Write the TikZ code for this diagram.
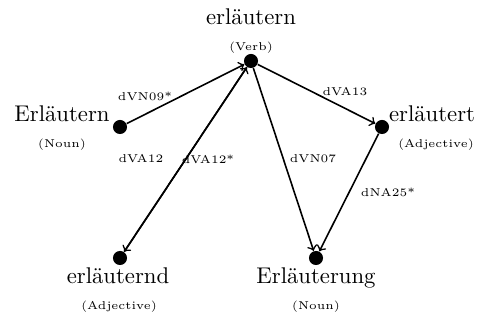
\documentclass[tikz,border=0pt]{standalone}
\begin{document}
\begin{tikzpicture}[x=0.44pt,y=-0.44pt,
  dot/.style={circle,fill=black,inner sep=0pt,minimum size=6.2pt},
  word/.style={font=\normalsize,inner sep=0pt},
  pos label/.style={font=\tiny,inner sep=0pt},
  rel/.style={font=\tiny,inner sep=0pt},
  link/.style={->,line width=0.7pt}]
\useasboundingbox (0,0) rectangle (481,320);
% dots
\node[dot] (v)  at (251,61)  {};
\node[dot] (n1) at (120,127) {};
\node[dot] (a1) at (382,127) {};
\node[dot] (a2) at (120,258) {};
\node[dot] (n2) at (316,258) {};
% words
\node[word] (vw)  at (251,17)  {erläutern};
\node[pos label] (vp) at (251,48) {(Verb)};
\node[word] (n1w) at (62,114)  {Erläutern};
\node[pos label] (n1p) at (62,145) {(Noun)};
\node[word] (a1w) at (432,114) {erläutert};
\node[pos label] (a1p) at (436,145) {(Adjective)};
\node[word] (a2w) at (118,276) {erläuternd};
\node[pos label] (a2p) at (119,307) {(Adjective)};
\node[word] (n2w) at (316,278) {Erläuterung};
\node[pos label] (n2p) at (316,307) {(Noun)};
% connectors
\draw[link] (n1) -- (v);
\draw[link] (v) -- (a1);
\draw[link] (v) -- (a2);
\draw[link] (a2) -- (v);
\draw[link] (v) -- (n2);
\draw[link] (a1) -- (n2);
% relation labels
\node[rel] (l1) at (145,96)  {dVN09*};
\node[rel] (l2) at (345,92)  {dVA13};
\node[rel] (l3) at (141,159) {dVA12};
\node[rel] (l4) at (208,159) {dVA12*};
\node[rel] (l5) at (313,159) {dVN07};
\node[rel] (l6) at (388,192) {dNA25*};
\end{tikzpicture}
\end{document}
